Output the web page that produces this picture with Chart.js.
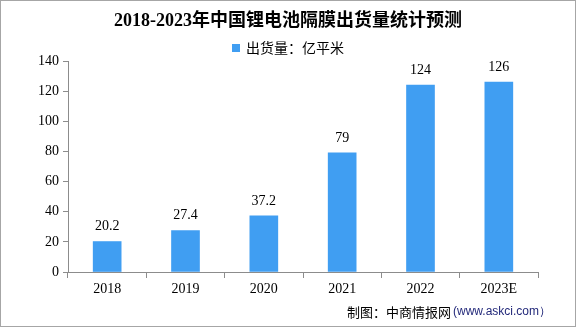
<!DOCTYPE html>
<html>
<head>
<meta charset="utf-8">
<script src="https://cdn.jsdelivr.net/npm/chart.js@4"></script>
<style>
  body { margin: 0; background: #fff; }
  #wrap { width: 576px; height: 327px; position: relative; }
</style>
</head>
<body>
<div id="wrap"><canvas id="chart" width="576" height="327"></canvas></div>
<script>
const years = ['2018', '2019', '2020', '2021', '2022', '2023E'];
const shipments = [20.2, 27.4, 37.2, 79, 124, 126];
const yTicks = [0, 20, 40, 60, 80, 100, 120, 140];

const chartTitle = '2018-2023年中国锂电池隔膜出货量统计预测';
const legendText = '出货量：亿平米';
const sourceText = '制图：中商情报网';
const sourceUrl = '(www.askci.com）';

const barColor = '#409ef2';
const axisColor = '#8c8c8c';
const numFont = '"Liberation Serif", "Noto Sans CJK SC", serif';
const cjkFont = '"Noto Sans CJK SC", sans-serif';

// title, legend, footer, value labels and outer frame
const decorations = {
    id: 'decorations',
    afterDraw(chart) {
        const ctx = chart.ctx;
        ctx.save();

        ctx.strokeStyle = '#a6a6a6';
        ctx.lineWidth = 1;
        ctx.strokeRect(0.5, 0.5, 575, 326);

        ctx.fillStyle = '#000';
        ctx.textBaseline = 'middle';
        ctx.textAlign = 'center';
        ctx.font = 'bold 18px ' + numFont;
        ctx.fillText(chartTitle, 288, 21);

        ctx.font = '14px ' + cjkFont;
        const lw = ctx.measureText(legendText).width;
        const lx = 288 - (lw + 14) / 2;
        ctx.fillStyle = barColor;
        ctx.fillRect(lx, 44, 8, 8);
        ctx.fillStyle = '#000';
        ctx.textAlign = 'left';
        ctx.fillText(legendText, lx + 14, 48);

        const meta = chart.getDatasetMeta(0);
        ctx.font = '14px ' + numFont;
        ctx.textAlign = 'center';
        meta.data.forEach((bar, i) => {
            ctx.fillText(String(shipments[i]), bar.x, bar.y - 15);
        });

        ctx.font = '13px ' + cjkFont;
        ctx.textAlign = 'left';
        ctx.fillStyle = '#000';
        ctx.fillText(sourceText, 347, 312);
        const sw = ctx.measureText(sourceText).width;
        ctx.font = '12px "Liberation Sans", sans-serif';
        ctx.fillStyle = '#23297a';
        ctx.fillText(sourceUrl, 349 + sw, 312);

        ctx.restore();
    }
};

new Chart(document.getElementById('chart'), {
    type: 'bar',
    data: {
        labels: years,
        datasets: [{
            data: shipments,
            backgroundColor: barColor,
            barThickness: 28
        }]
    },
    plugins: [decorations],
    options: {
        responsive: false,
        animation: false,
        layout: { padding: { left: 8, right: 38, top: 61, bottom: 30 } },
        plugins: {
            legend: { display: false },
            title: { display: false },
            tooltip: { enabled: false }
        },
        scales: {
            x: {
                afterFit: scale => { scale.height = 25; },
                grid: {
                    offset: true,
                    drawOnChartArea: false,
                    color: axisColor,
                    tickLength: 6
                },
                border: { color: axisColor },
                ticks: {
                    color: '#000',
                    padding: 3,
                    font: { family: numFont, size: 14 }
                }
            },
            y: {
                min: 0,
                max: 140,
                afterFit: scale => { scale.width = 60; },
                afterBuildTicks: scale => { scale.ticks = yTicks.map(v => ({ value: v })); },
                grid: {
                    drawOnChartArea: false,
                    color: axisColor,
                    tickLength: 5
                },
                border: { color: axisColor },
                ticks: {
                    color: '#000',
                    padding: 4,
                    font: { family: numFont, size: 14 }
                }
            }
        }
    }
});
</script>
</body>
</html>
